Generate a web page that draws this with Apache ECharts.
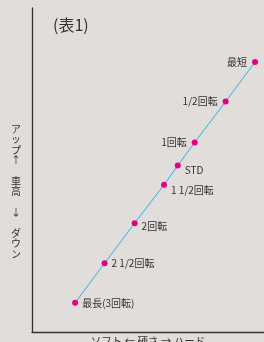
<!DOCTYPE html>
<html>
<head>
<meta charset="utf-8">
<script src="https://cdn.jsdelivr.net/npm/echarts@6/dist/echarts.min.js"></script>
<style>
  html, body { margin: 0; padding: 0; background: #e1ddda; }
  #main { width: 264px; height: 342px; }
</style>
</head>
<body>
<div id="main"></div>
<script>
// 調整位置（硬さ・車高）
var names = ['最長(3回転)', '2 1/2回転', '2回転', '1 1/2回転', 'STD', '1回転', '1/2回転', '最短'];
var hardness = [1.45, 2.44, 3.45, 4.44, 4.90, 5.47, 6.51, 7.50];
var height = [0.73, 1.72, 2.72, 3.68, 4.16, 4.74, 5.76, 6.75];

var font = '"Noto Sans CJK JP", "Noto Sans", sans-serif';
var chart = echarts.init(document.getElementById('main'));

var data = [];
for (var i = 0; i < names.length; i++) {
  var lbl = { show: true, formatter: names[i], position: 'right', distance: 4 };
  if (i >= 5) {
    lbl.position = 'left';
    lbl.distance = 5;
  } else if (i >= 2) {
    lbl.offset = [0, i == 2 ? 3 : 5];
  }
  data.push({ value: [hardness[i], height[i]], label: lbl });
}

var option = {
  backgroundColor: '#e1ddda',
  animation: false,
  title: {
    text: '(表1)',
    left: 48,
    top: 12,
    textStyle: { fontFamily: font, fontSize: 16, fontWeight: 'normal', color: '#333' }
  },
  // 縦書きの軸名
  graphic: [{
    type: 'text',
    left: 11,
    top: 124,
    style: {
      text: 'ア\nッ\nプ\n↑\n\n車\n高\n\n↓\n\nダ\nウ\nン',
      font: '10px ' + font,
      lineHeight: 10.4,
      fill: '#333',
      align: 'center'
    }
  }],
  grid: { left: 32, right: 0, top: 8, bottom: 10, outerBoundsMode: 'none' },
  xAxis: {
    type: 'value',
    min: 0,
    max: 7.8,
    name: 'ソフト ← 硬さ → ハード',
    nameLocation: 'middle',
    nameGap: 4,
    nameTextStyle: { fontFamily: font, fontSize: 10.5, color: '#333', verticalAlign: 'top' },
    axisLine: { lineStyle: { color: '#333', width: 1.3 } },
    axisTick: { show: false },
    axisLabel: { show: false },
    splitLine: { show: false }
  },
  yAxis: {
    type: 'value',
    min: 0,
    max: 8.1,
    axisLine: { lineStyle: { color: '#333', width: 1.3 } },
    axisTick: { show: false },
    axisLabel: { show: false },
    splitLine: { show: false }
  },
  series: [{
    type: 'line',
    data: data,
    symbol: 'circle',
    symbolSize: 6,
    lineStyle: { color: '#2ab4e6', width: 1 },
    itemStyle: { color: '#e5007f' },
    label: { fontFamily: font, fontSize: 10, color: '#333' }
  }]
};

chart.setOption(option);
</script>
</body>
</html>
